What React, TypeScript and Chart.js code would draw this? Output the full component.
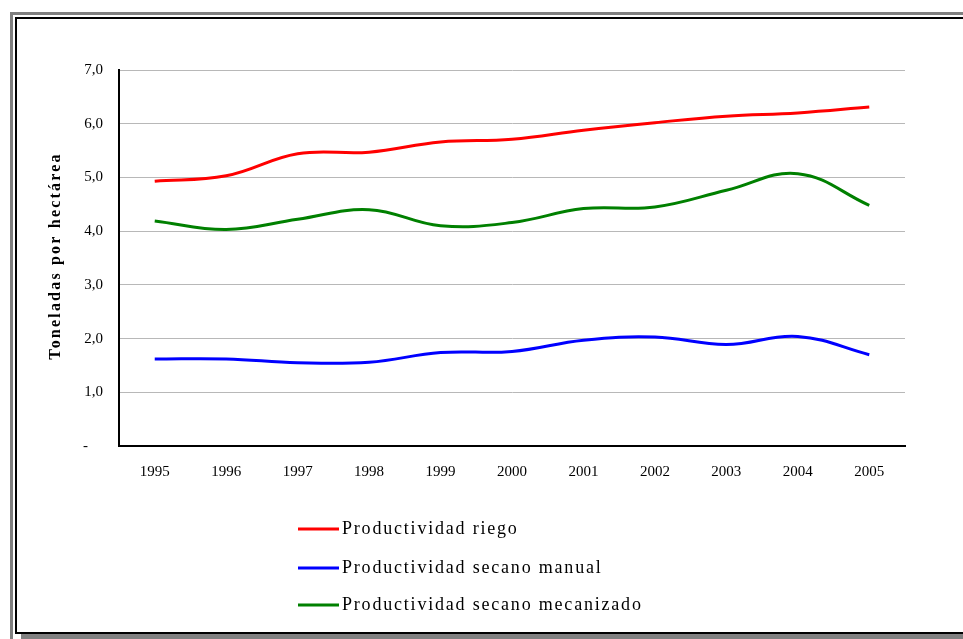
import React, { useEffect, useRef } from "react";
import { Chart, registerables } from "chart.js";

Chart.register(...registerables);

const years = ["1995", "1996", "1997", "1998", "1999", "2000", "2001", "2002", "2003", "2004", "2005"];
const riego = [4.93, 5.03, 5.44, 5.47, 5.66, 5.71, 5.88, 6.02, 6.14, 6.2, 6.31];
const secanoManual = [1.62, 1.62, 1.55, 1.56, 1.74, 1.76, 1.97, 2.03, 1.89, 2.04, 1.7];
const secanoMecanizado = [4.19, 4.03, 4.22, 4.4, 4.1, 4.16, 4.42, 4.45, 4.76, 5.07, 4.48];
const seriesLabels = ["Productividad riego", "Productividad secano manual", "Productividad secano mecanizado"];
const yTitle = "Toneladas por hectárea";

const SERIF = "'Liberation Serif', 'DejaVu Serif', serif";

const framePlugin = {
  id: "frame",
  beforeDraw(chart: any) {
    const ctx = chart.ctx;
    ctx.save();
    ctx.fillStyle = "#ffffff";
    ctx.fillRect(0, 0, chart.width, chart.height);
    ctx.fillStyle = "#808080";
    ctx.fillRect(10, 12, chart.width - 10, 3);
    ctx.fillRect(10, 12, 3, chart.height - 12);
    ctx.fillRect(21, 634, chart.width - 21, 5);
    ctx.fillStyle = "#000000";
    ctx.fillRect(15, 17, chart.width - 15, 2);
    ctx.fillRect(15, 17, 2, 617);
    ctx.fillRect(15, 632, chart.width - 15, 2);
    ctx.restore();
  },
  afterDraw(chart: any) {
    const ctx = chart.ctx;
    ctx.save();
    // y axis title
    ctx.fillStyle = "#000000";
    ctx.font = `bold 16px ${SERIF}`;
    try { (ctx as any).letterSpacing = "2.2px"; } catch (e) {}
    ctx.translate(56, 256);
    ctx.rotate(-Math.PI / 2);
    ctx.textAlign = "center";
    ctx.textBaseline = "middle";
    ctx.fillText(yTitle, 0, 0);
    ctx.restore();

    // legend
    ctx.save();
    const ys = [529, 568, 605];
    chart.data.datasets.forEach((ds: any, i: number) => {
      ctx.strokeStyle = ds.borderColor;
      ctx.lineWidth = 3;
      ctx.beginPath();
      ctx.moveTo(298, ys[i]);
      ctx.lineTo(339, ys[i]);
      ctx.stroke();
      ctx.fillStyle = "#000000";
      ctx.font = `18px ${SERIF}`;
      try { (ctx as any).letterSpacing = "1.8px"; } catch (e) {}
      ctx.textAlign = "left";
      ctx.textBaseline = "middle";
      ctx.fillText(ds.label, 342, ys[i]);
    });
    ctx.restore();
  },
};

export default function App() {
  const ref = useRef<HTMLCanvasElement | null>(null);
  useEffect(() => {
    if (!ref.current) return;
    const chart = new Chart(ref.current, {
      type: "line",
      data: {
        labels: years,
        datasets: [
          { label: seriesLabels[0], data: riego, borderColor: "#ff0000", backgroundColor: "#ff0000" },
          { label: seriesLabels[1], data: secanoManual, borderColor: "#0000ff", backgroundColor: "#0000ff" },
          { label: seriesLabels[2], data: secanoMecanizado, borderColor: "#008000", backgroundColor: "#008000" },
        ].map((d) => ({ ...d, borderWidth: 3, pointRadius: 0, tension: 0.4, fill: false })),
      },
      options: {
        responsive: false,
        animation: false,
        layout: { padding: { left: 0, right: 58, top: 70, bottom: 0 } },
        plugins: { legend: { display: false }, tooltip: { enabled: false }, title: { display: false } },
        scales: {
          x: {
            type: "category",
            offset: true,
            grid: { display: false, drawTicks: false },
            border: { display: true, color: "#000000", width: 2 },
            ticks: { color: "#000000", font: { family: SERIF, size: 15 }, padding: 17, maxRotation: 0 },
            afterFit: (s: any) => { s.height = 193; },
          },
          y: {
            min: 0,
            max: 7,
            grid: { color: "#b8b8b8", lineWidth: 1, drawTicks: false },
            border: { display: true, color: "#000000", width: 2 },
            ticks: {
              stepSize: 1,
              color: "#000000",
              padding: 16,
              font: { family: SERIF, size: 15 },
              callback: (v: any) => (Number(v) === 0 ? "-    " : Number(v).toFixed(1).replace(".", ",")),
            },
            afterFit: (s: any) => { s.width = 119; },
          },
        },
      },
      plugins: [framePlugin],
    });
    return () => chart.destroy();
  }, []);
  return (
    <div style={{ position: "fixed", left: 0, top: 0, width: 963, height: 639, background: "#fff" }}>
      <canvas ref={ref} width={963} height={639} style={{ display: "block" }} />
    </div>
  );
}
